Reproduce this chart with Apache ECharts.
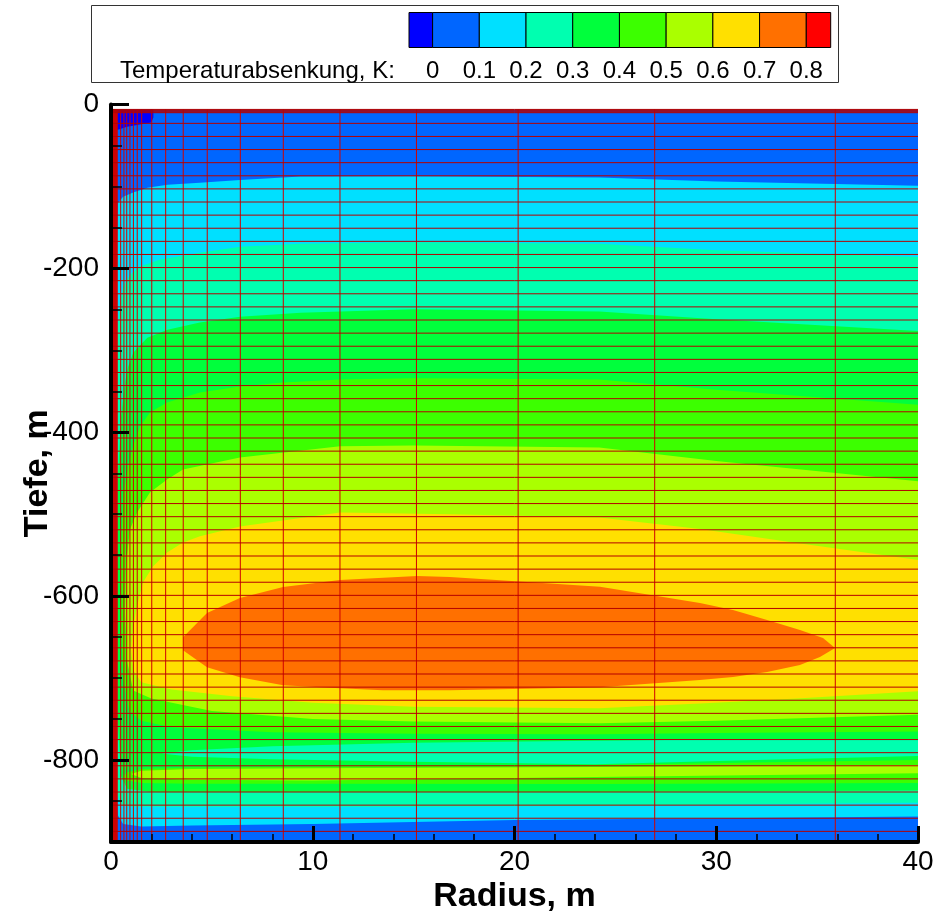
<!DOCTYPE html>
<html>
<head>
<meta charset="utf-8">
<script src="https://cdn.jsdelivr.net/npm/echarts@6/dist/echarts.min.js"></script>
<style>
html, body { margin: 0; padding: 0; background: #fff; }
#chart { width: 934px; height: 912px; }
</style>
</head>
<body>
<div id="chart"></div>
<script>
// Temperaturabsenkung (K) als Konturbänder, Punkte jeweils [Radius m, Tiefe m]
var levelLabels = ['0', '0.1', '0.2', '0.3', '0.4', '0.5', '0.6', '0.7', '0.8'];
var bandColors = ['#0000FF', '#0066FF', '#00E0FF', '#00FFB0', '#00FF3C', '#3CFF00', '#AAFF00', '#FFE000', '#FF7000', '#FF0000'];

var domain = [[0, -6], [40, -6], [40, -900], [0, -900]];
var below0 = [[0.3, -6], [2.1, -6], [2.1, -16], [2.0, -22], [1.5, -24], [0.8, -27], [0.3, -31]];
var above01 = [[40, -99], [30, -94], [24.2, -89], [15, -87.5], [9.4, -88], [6.4, -92], [4.4, -95.5], [2.8, -98], [1.8, -101.5], [1.1, -107.5], [0.6, -112.5], [0.35, -120], [0.25, -200], [0.2, -400], [0.2, -700], [0.25, -830], [0.35, -868], [0.6, -878], [1.5, -881], [4, -880], [10, -878], [20, -873], [30, -871], [40, -869]];
var above02 = [[40, -186], [30, -178], [24.2, -170], [15, -168], [9.4, -170], [6.4, -173.5], [4.4, -181], [2.4, -189.5], [1.4, -198], [0.94, -208], [0.6, -222], [0.45, -242], [0.3, -280], [0.22, -400], [0.22, -700], [0.3, -840], [0.5, -855], [1, -857], [5, -857], [15, -857], [24, -856], [32, -854], [40, -852]];
var above03 = [[40, -276.5], [30, -262], [24.2, -252.5], [15, -250], [9.4, -254], [6.4, -259], [4.4, -266], [2.8, -275], [1.8, -284.5], [1.1, -303], [0.85, -320], [0.7, -339], [0.5, -380], [0.35, -450], [0.3, -600], [0.35, -760], [0.5, -820], [0.8, -835], [2, -839], [10, -839], [24, -839], [40, -837]];
var dip03 = [[40, -775], [30, -775], [24, -776.5], [15, -779], [8, -783], [4, -788], [2.5, -792], [4, -796], [8, -799], [15, -802], [24, -805], [32, -800], [40, -795]];
var above04 = [[40, -366.5], [30, -348], [24.2, -335.7], [15, -334], [11.35, -335.7], [8.53, -339.4], [6.39, -344.2], [4.41, -351.6], [2.78, -363.8], [1.93, -376], [1.44, -393], [1.09, -417.4], [0.84, -441.7], [0.6, -480], [0.5, -540], [0.5, -640], [0.6, -700], [0.9, -740], [1.5, -752], [3, -760], [8, -766], [15, -768], [24, -768.4], [30, -767], [40, -765]];
var above04b = [[40, -800], [24, -806], [10, -808], [4, -809], [1.5, -811], [0.8, -815], [0.6, -820], [0.8, -825], [1.5, -828], [4, -829], [10, -829], [24, -829.3], [40, -828]];
var above05 = [[40, -459.7], [30, -435], [24.2, -418.6], [15, -416], [11.35, -417], [6.39, -430.8], [3.57, -445.4], [2.78, -457.6], [1.93, -473.4], [1.29, -497.8], [0.94, -518.5], [0.75, -560], [0.7, -620], [0.8, -680], [1.1, -715], [2, -725], [5, -740], [10, -750], [15, -753], [24.2, -755], [30, -752], [40, -744.6]];
var above05b = [[40, -806], [24, -808.5], [10, -810], [4, -811], [1.5, -813], [1, -817], [1.5, -822], [4, -824], [10, -825], [24, -820.7], [40, -816]];
var above06 = [[40, -556], [34, -535], [29.2, -518], [24.2, -504], [16.8, -500], [11.35, -498], [6.39, -515], [4.41, -527], [3.57, -534.4], [2.78, -546.6], [2.08, -563.7], [1.59, -583], [1.29, -612], [1.09, -640], [1.0, -665], [1.1, -690], [1.5, -705], [3, -714], [6, -722], [10, -730], [15, -735], [24.2, -736.7], [29.2, -731], [34, -725], [40, -716]];
var above07 = [[3.57, -650], [4.76, -620.6], [6.39, -602.3], [8.53, -588.8], [11.35, -580.3], [15.17, -575.4], [16.8, -576.6], [24.24, -588.5], [29.19, -608.4], [30.83, -616.9], [32.52, -629.1], [34.15, -641.3], [35.29, -651.1], [35.89, -663.3], [35.14, -674.3], [34.15, -684.1], [32.52, -692.6], [30.83, -698.7], [29.19, -702.4], [24.24, -711], [16.8, -714.7], [13.48, -714.7], [11.35, -712.3], [8.53, -708.6], [6.39, -698.8], [4.76, -686.6], [3.57, -666]];

// Rechennetz (radial sehr fein am Bohrloch)
var meshR = [0.02, 0.04, 0.06, 0.08, 0.1, 0.12, 0.14, 0.16, 0.18, 0.2, 0.22, 0.24, 0.26, 0.28, 0.31, 0.48, 0.64, 0.78, 0.94, 1.11, 1.3, 1.52, 2.02, 2.71, 3.58, 4.77, 6.41, 8.54, 11.35, 15.14, 20.18, 26.95, 35.9];
var meshZ = [-6, -7, -8, -9, -10, -23, -39, -55, -71, -87, -103, -119, -135, -151, -167, -183, -199, -215, -231, -247, -263, -279, -295, -311, -327, -343, -359, -375, -391, -407, -423, -439, -455, -471, -487, -503, -519, -535, -551, -567, -583, -599, -615, -631, -647, -663, -679, -695, -711, -727, -743, -759, -775, -791, -807, -823, -839, -855, -871, -887];

var depthTicks = [0, -200, -400, -600, -800];
var depthMinorTicks = [-50, -100, -150, -250, -300, -350, -450, -500, -550, -650, -700, -750, -850];

// Reihenfolge = Malreihenfolge, zweiter Wert = Farbindex
var bands = [
    [domain, 1], [below0, 0], [above01, 2], [above02, 3], [above03, 4], [dip03, 3],
    [above04, 5], [above04b, 5], [above05, 6], [above05b, 6], [above06, 7], [above07, 8]
];

var font = 'Liberation Sans, Arial, sans-serif';

function renderBand(params, api) {
    var band = bands[params.dataIndex];
    var pts = band[0].map(function (p) { return api.coord(p); });
    return {
        type: 'polygon',
        z2: params.dataIndex,
        shape: { points: pts },
        style: { fill: bandColors[band[1]] }
    };
}

function renderVertical(params, api) {
    var a = api.coord([api.value(0), domain[0][1]]);
    var b = api.coord([api.value(0), domain[2][1]]);
    return { type: 'line', shape: { x1: a[0], y1: a[1], x2: b[0], y2: b[1] }, style: { stroke: '#D00000', lineWidth: 1 } };
}

function renderHorizontal(params, api) {
    var a = api.coord([domain[0][0], api.value(1)]);
    var b = api.coord([domain[1][0], api.value(1)]);
    return { type: 'line', shape: { x1: a[0], y1: a[1], x2: b[0], y2: b[1] }, style: { stroke: '#B40000', lineWidth: 1 } };
}

// Legende oben
var legendEls = [];
legendEls.push({ type: 'rect', shape: { x: 91.5, y: 5.5, width: 747, height: 77 }, style: { fill: '#fff', stroke: '#333', lineWidth: 1 } });
var barLeft = 409, firstEdge = 432.6, step = 46.71, barRight = 830.7;
var edges = [barLeft];
for (var i = 0; i < levelLabels.length; i++) edges.push(firstEdge + i * step);
edges.push(barRight);
for (var j = 0; j < bandColors.length; j++) {
    legendEls.push({
        type: 'rect',
        shape: { x: edges[j], y: 12.5, width: edges[j + 1] - edges[j], height: 35 },
        style: { fill: bandColors[j], stroke: '#000', lineWidth: 1 }
    });
}
levelLabels.forEach(function (t, k) {
    legendEls.push({ type: 'text', x: firstEdge + k * step, y: 71, style: { text: t, fontSize: 24, fontFamily: font, fill: '#000', align: 'center', verticalAlign: 'middle' } });
});
legendEls.push({ type: 'text', x: 120, y: 71, style: { text: 'Temperaturabsenkung, K:', fontSize: 24, fontFamily: font, fill: '#000', align: 'left', verticalAlign: 'middle' } });

var chart = echarts.init(document.getElementById('chart'));
chart.setOption({
    animation: false,
    backgroundColor: '#fff',
    grid: { left: 111, right: 16, top: 104.5, bottom: 70, containLabel: false, outerBoundsMode: 'none' },
    graphic: legendEls,
    xAxis: {
        type: 'value', min: 0, max: 40, interval: 10, z: 10,
        name: 'Radius, m', nameLocation: 'middle', nameGap: 38, nameMoveOverlap: false,
        nameTextStyle: { fontSize: 34, fontWeight: 'bold', fontFamily: font, color: '#000' },
        axisLine: { onZero: false, lineStyle: { color: '#000', width: 4 } },
        axisTick: { inside: true, length: 16, lineStyle: { color: '#000', width: 3 } },
        minorTick: { show: true, splitNumber: 5, length: 8, lineStyle: { color: '#000', width: 1.5 } },
        splitLine: { show: false },
        axisLabel: { fontSize: 28, fontFamily: font, color: '#000', margin: 6 }
    },
    yAxis: [{
        type: 'value', min: -900, max: 0, z: 10,
        name: 'Tiefe, m', nameLocation: 'middle', nameGap: 56, nameMoveOverlap: false,
        nameTextStyle: { fontSize: 34, fontWeight: 'bold', fontFamily: font, color: '#000' },
        axisLine: { onZero: false, lineStyle: { color: '#000', width: 4 } },
        axisTick: { inside: true, length: 18, customValues: depthTicks, lineStyle: { color: '#000', width: 3 } },
        minorTick: { show: false },
        splitLine: { show: false },
        axisLabel: { fontSize: 28, fontFamily: font, color: '#000', margin: 12, customValues: depthTicks }
    }, {
        type: 'value', min: -900, max: 0, position: 'left', z: 10,
        axisLine: { show: false, onZero: false },
        axisTick: { inside: true, length: 11, customValues: depthMinorTicks, lineStyle: { color: '#000', width: 1.5 } },
        axisLabel: { show: false },
        splitLine: { show: false }
    }],
    series: [{
        type: 'custom', name: 'Konturen', clip: true, silent: true, z: 1,
        renderItem: renderBand,
        data: bands.map(function (b) { return b[0][0]; })
    }, {
        type: 'custom', name: 'Netz radial', clip: true, silent: true, z: 2,
        renderItem: renderVertical,
        data: meshR.map(function (r) { return [r, domain[0][1]]; })
    }, {
        type: 'custom', name: 'Netz Tiefe', clip: true, silent: true, z: 2,
        renderItem: renderHorizontal,
        data: meshZ.map(function (z) { return [domain[0][0], z]; })
    }]
});
</script>
</body>
</html>
